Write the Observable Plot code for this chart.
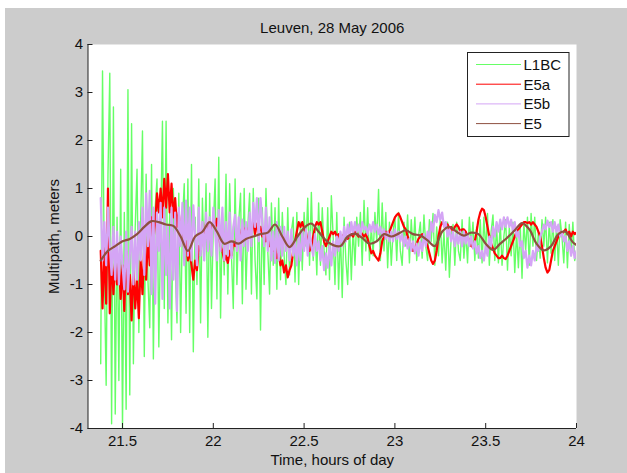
<!DOCTYPE html>
<html><head><meta charset="utf-8">
<script src="https://cdn.jsdelivr.net/npm/d3@7"></script>
<script src="https://cdn.jsdelivr.net/npm/@observablehq/plot@0.6"></script>
<style>
html,body{margin:0;padding:0;background:#fff;}
#wrap{position:relative;width:627px;height:473px;overflow:hidden;}
#bg{position:absolute;left:5px;top:8px;width:622px;height:465px;background:#cccccc;}
#chart{position:absolute;left:0;top:0;}
</style></head><body>
<div id="wrap"><div id="bg"></div><div id="chart"></div></div>
<script>
const title = "Leuven, 28 May 2006";
const xLabel = "Time, hours of day";
const yLabel = "Multipath, meters";
const seriesNames = ["L1BC", "E5a", "E5b", "E5"];
const seriesColors = ["#66ff66", "#ff0000", "#d4a5f5", "#8e5040"];
const xTicks = [21.5, 22, 22.5, 23, 23.5, 24];
const yTicks = [-4, -3, -2, -1, 0, 1, 2, 3, 4];
const xDomain = [21.31, 24];
const yDomain = [-4, 4];
// sampling grid (hours of day)
const tStart = 21.38;
const dtFine = 0.01;   // L1BC, E5a, E5b
const dtCoarse = 0.04; // E5

const l1bc = [
-2.65,3.45,-0.8,-3.1,1.3,3.4,-3.9,2.7,-3.7,0.4,
-3.0,1.4,-4.0,0.5,-3.6,3.06,-3.3,2.35,-2.65,0.2,
1.4,-2.0,0.3,2.2,-2.5,1.3,-0.9,-1.9,1.5,-2.55,
0.6,1.2,-2.3,0.2,2.4,-1.5,2.4,-1.8,0.5,-2.15,
1.0,-0.6,-1.8,0.9,-2.0,0.3,1.1,-1.6,1.2,-2.0,
1.5,-2.4,0.4,-1.0,1.2,-1.8,0.8,-0.5,1.1,-2.1,
0.9,-1.5,0.2,1.2,-1.3,1.65,-1.7,0.5,-0.8,1.3,
-1.2,1.1,-0.4,-1.5,1.2,-1.0,0.3,0.9,-1.4,1.0,
-1.1,0.2,0.9,-1.2,1.0,-0.5,-1.3,0.8,-1.95,0.6,
-1.0,1.0,-0.3,-1.2,0.7,-0.6,0.6,-1.1,0.8,-0.9,
0.5,-0.4,-1.0,0.6,-0.8,0.1,0.4,-0.95,0.5,-1.0,
0.3,-0.7,0.5,-0.2,0.8,-0.6,0.92,-0.5,0.2,-0.8,
0.7,-0.6,0.6,-0.3,-0.8,0.6,-0.9,0.85,0.0,-1.0,
0.5,-1.1,0.1,-1.27,0.4,-0.5,-1.0,0.3,-0.9,0.2,
-0.6,0.4,-0.2,0.5,-0.6,0.75,-0.3,0.6,-0.5,0.2,
-0.4,0.5,-0.1,0.98,-0.5,0.7,-0.3,0.5,-0.65,0.3,
-0.6,0.1,0.4,-0.5,0.5,-0.3,-0.6,0.3,-0.2,0.45,
-0.55,0.35,-0.3,0.4,-0.5,0.0,0.3,-0.45,0.45,-0.2,
-0.5,0.35,-0.1,0.48,-0.6,0.2,-0.4,0.35,-0.55,0.1,
-0.7,0.3,-0.85,0.0,0.25,-0.6,0.3,-0.3,-0.5,0.35,
-0.45,0.1,-0.55,0.4,-0.2,0.3,-0.5,0.2,-0.45,0.35,
-0.55,0.4,-0.3,0.48,-0.6,0.1,0.45,-0.5,0.2,-0.55,
0.3,-0.6,0.0,0.35,-0.7,0.2,-0.4,0.3,-0.75,0.1,
-0.65,0.25,-0.87,0.3,-0.3,0.4,-0.6,0.48,-0.2,0.4,
-0.5,0.1,-0.45,0.35,-0.2,0.4,-0.55,0.3,-0.35,0.35,
-0.5,0.2,-0.6,0.35,0.0,-0.55,0.3,-0.65,0.25,-0.4,
0.3,-0.5,-0.3
];

const e5a = [
-0.3,-1.5,-0.2,-1.4,1.0,-1.6,-0.4,-1.2,-0.5,-1.0,
-0.4,-1.3,-0.6,-1.55,-0.3,-1.2,-0.8,-1.75,-0.6,-1.5,
-0.9,-1.7,-0.5,-1.2,-0.2,-0.9,0.0,-0.6,0.4,-0.1,
0.3,0.9,0.5,1.0,0.4,1.2,0.6,1.3,0.5,1.1,
0.4,0.8,0.2,0.5,0.0,0.3,-0.3,-0.1,-0.5,-0.3,
-0.6,-0.9,-0.5,-0.7,-0.2,-0.3,0.1,0.0,0.3,0.1,
0.3,0.1,0.35,0.2,0.37,0.0,-0.2,-0.3,-0.5,-0.4,
-0.55,-0.3,-0.4,-0.1,-0.2,0.0,0.1,0.0,0.2,0.1,
0.2,0.0,0.25,0.1,0.3,0.05,0.27,0.1,0.2,0.0,
0.1,-0.1,0.05,-0.2,-0.1,-0.3,-0.2,-0.45,-0.35,-0.6,
-0.5,-0.75,-0.6,-0.85,-0.7,-0.6,-0.3,-0.1,0.1,0.3,
0.2,0.3,0.15,0.1,-0.1,-0.3,-0.2,0.0,0.2,0.3,
0.25,0.3,0.1,-0.1,-0.2,-0.1,0.0,0.1,0.05,0.1,
0.0,0.05,-0.1,0.0,0.05,0.0,-0.05,0.0,0.05,0.0,
0.1,0.05,0.0,0.1,0.05,0.0,0.05,-0.05,-0.2,-0.35,
-0.3,-0.4,-0.45,-0.5,-0.35,-0.1,0.0,0.1,0.05,0.1,
0.2,0.3,0.4,0.45,0.48,0.4,0.3,0.2,0.15,0.0,
-0.1,-0.2,-0.3,-0.25,-0.15,-0.05,0.0,0.05,0.0,-0.1,
-0.2,-0.35,-0.5,-0.57,-0.5,-0.3,0.0,0.2,0.3,0.25,
0.2,0.25,0.15,0.2,0.1,0.2,0.25,0.2,0.1,0.15,
0.15,0.1,0.0,-0.1,-0.2,-0.22,-0.1,0.1,0.35,0.5,
0.58,0.55,0.4,0.2,0.0,-0.15,-0.25,-0.35,-0.4,-0.45,
-0.45,-0.4,-0.45,-0.47,-0.4,-0.3,-0.2,-0.1,0.0,0.1,
0.15,0.2,0.25,0.3,0.3,0.28,0.3,0.25,0.3,0.25,
0.2,0.1,0.0,-0.2,-0.45,-0.65,-0.75,-0.7,-0.5,-0.3,
-0.2,-0.1,0.0,0.1,0.05,0.1,0.15,0.05,0.1,0.0,
0.1,0.05,0.08
];

const e5b = [
0.8,-0.5,0.3,-0.6,0.6,-0.2,-0.8,0.2,-0.9,0.1,
-1.0,0.0,-0.6,-1.1,0.1,-1.15,-0.4,0.2,-1.0,0.1,
-0.9,0.3,-0.5,0.6,-0.8,0.9,-0.2,0.95,-1.2,0.6,
-1.4,0.5,-0.3,0.7,-1.3,0.6,-0.8,0.2,-1.5,0.6,
-0.9,0.5,-1.55,0.6,-0.2,0.7,-0.6,0.75,-0.4,0.6,
-0.5,0.65,0.0,-0.6,0.6,-0.4,0.3,-0.5,0.5,-0.3,
0.4,-0.4,0.6,0.1,-0.5,0.55,-0.3,0.6,-0.5,0.3,
-0.4,0.5,-0.45,0.2,0.45,-0.3,0.4,-0.5,0.35,-0.2,
0.3,-0.3,0.5,-0.2,0.7,0.2,0.8,-0.1,0.8,0.3,
-0.2,0.6,-0.3,0.4,-0.5,0.1,-0.55,0.3,-0.5,0.2,
-0.4,0.2,-0.3,0.1,-0.5,0.15,-0.4,-0.1,-0.6,0.0,
-0.5,0.1,-0.3,0.15,-0.4,0.1,-0.2,-0.4,0.05,-0.3,
-0.1,-0.5,-0.2,-0.7,-0.35,-0.65,-0.2,-0.6,-0.1,-0.4,
0.0,-0.3,0.1,-0.2,0.2,-0.1,0.25,0.0,0.3,0.05,
0.3,0.1,0.25,0.0,0.3,0.15,0.2,0.05,0.25,0.1,
0.3,0.1,0.25,0.05,0.2,0.0,0.15,-0.05,0.1,-0.1,
0.1,-0.1,0.15,-0.05,0.1,-0.1,0.05,-0.2,0.0,-0.25,
-0.05,-0.3,-0.1,-0.35,-0.15,-0.4,-0.1,-0.3,0.05,-0.2,
0.1,-0.1,0.3,0.1,0.45,0.3,0.55,0.35,0.5,0.2,
0.3,0.0,0.15,-0.1,0.1,-0.2,0.05,-0.15,0.1,-0.2,
0.1,-0.15,0.05,-0.2,0.0,-0.25,-0.1,-0.35,-0.2,-0.45,
-0.3,-0.5,-0.2,-0.4,0.0,-0.2,0.2,0.0,0.3,0.1,
0.35,0.15,0.4,0.2,0.4,0.2,0.35,0.1,0.3,0.0,
0.1,-0.2,-0.1,-0.45,-0.3,-0.65,-0.4,-0.6,-0.3,-0.5,
-0.2,-0.3,0.0,0.1,0.25,0.15,0.33,0.2,0.3,0.1,
0.3,0.1,0.25,0.0,0.1,-0.1,0.0,-0.3,-0.1,-0.4,
-0.2,-0.45,-0.3
];

const e5 = [
-0.5,-0.3,-0.2,-0.1,-0.05,0.05,0.2,0.32,0.3,0.25,
0.22,0.0,-0.3,0.0,0.1,0.3,0.1,-0.15,-0.1,-0.15,
-0.05,0.0,0.05,0.08,0.25,0.0,-0.22,-0.02,0.18,0.27,
0.1,-0.08,-0.18,-0.2,0.0,0.06,-0.03,-0.15,-0.1,0.05,
0.0,0.06,0.13,0.05,0.02,-0.08,-0.2,0.1,0.2,0.1,
0.02,0.08,0.05,-0.15,-0.28,-0.15,-0.02,0.13,0.28,0.15,
-0.15,-0.29,-0.2,0.05,0.1,-0.12,-0.22
];

const seriesValues = [l1bc, e5a, e5b, e5];
const seriesSteps = [dtFine, dtFine, dtFine, dtCoarse];
const seriesWidths = [1.4, 2.2, 2.2, 2.2];
const seriesCurves = ["linear", "linear", "linear", "catmull-rom"];

const seriesData = seriesValues.map((vals, k) =>
  vals.map((v, i) => ({series: seriesNames[k], t: tStart + i * seriesSteps[k], v}))
);

const font = "'Liberation Sans', Arial, Helvetica, sans-serif";
const fs = 15;

const svg = Plot.plot({
  width: 627,
  height: 473,
  marginLeft: 87.5,
  marginRight: 51,
  marginTop: 44,
  marginBottom: 45,
  style: {background: "transparent", fontFamily: font, fontSize: fs + "px", color: "#111", overflow: "visible"},
  x: {domain: xDomain},
  y: {domain: yDomain},
  marks: [
    Plot.frame({fill: "white", stroke: "none"}),
    ...seriesData.map((data, k) =>
      Plot.line(data, {x: "t", y: "v", stroke: seriesColors[k], strokeWidth: seriesWidths[k], curve: seriesCurves[k], clip: true})
    ),
    Plot.ruleX([xDomain[0]], {stroke: "#222", strokeWidth: 1}),
    Plot.ruleY([yDomain[0]], {stroke: "#222", strokeWidth: 1}),
    Plot.axisX({ticks: xTicks, tickSize: 0, tickPadding: 7, tickFormat: d => String(d), label: null, fontSize: fs}),
    Plot.axisX({ticks: xTicks, tickSize: 5, text: null, label: null, dy: -5, stroke: "#222"}),
    Plot.axisY({ticks: yTicks, tickSize: 0, tickPadding: 5, tickFormat: d => String(d), label: null, fontSize: fs}),
    Plot.axisY({ticks: yTicks, tickSize: 5, text: null, label: null, dx: 5, stroke: "#222"}),
    Plot.text([title], {text: d => d, frameAnchor: "top", lineAnchor: "middle", textAnchor: "middle", dy: -16, fontSize: fs, fill: "#111"}),
    Plot.text([xLabel], {text: d => d, frameAnchor: "bottom", lineAnchor: "middle", textAnchor: "middle", dy: 32, fontSize: fs, fill: "#111"}),
    Plot.text([yLabel], {text: d => d, frameAnchor: "left", lineAnchor: "middle", textAnchor: "middle", rotate: -90, dx: -34, fontSize: fs, fill: "#111"})
  ]
});

// legend box (top-right inside the axes)
const lg = d3.select(svg).append("g").attr("font-family", font).attr("font-size", 15).attr("text-anchor", "start");
lg.append("rect").attr("x", 467.5).attr("y", 52.5).attr("width", 101.5).attr("height", 84)
  .attr("fill", "white").attr("stroke", "#222").attr("stroke-width", 1);
seriesNames.forEach((name, i) => {
  const y = 64.5 + i * 19.7;
  lg.append("line").attr("x1", 476).attr("x2", 521).attr("y1", y).attr("y2", y)
    .attr("stroke", seriesColors[i]).attr("stroke-width", 1);
  lg.append("text").attr("x", 523.5).attr("y", y).attr("dy", "0.36em").attr("fill", "#111")
    .attr("text-anchor", "start").text(name);
});

document.getElementById("chart").appendChild(svg);
</script>
</body></html>
